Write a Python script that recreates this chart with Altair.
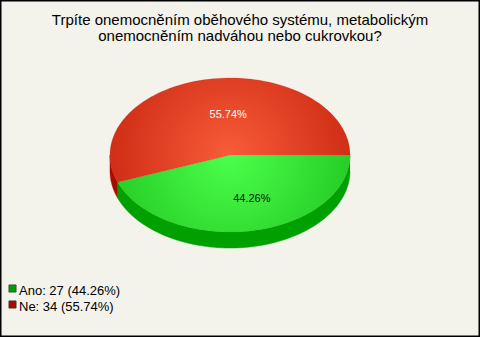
import altair as alt
import pandas as pd

# ---- data ----
categories = ["Ano", "Ne"]
counts = [27, 34]
order = [0, 1]
top_light = ["#4cff4c", "#f85c38"]
top_dark = ["#1fc41f", "#c6230e"]
side_colors = ["#00a000", "#a80c00"]
legend_colors = ["#20bb20", "#c4240e"]
label_colors = ["#111111", "#ffffff"]
title_lines = ["Trpíte onemocněním oběhového systému, metabolickým",
               "onemocněním nadváhou nebo cukrovkou?"]

df = pd.DataFrame({"cat": categories, "count": counts, "order": order})

# ---- layout ----
W, H = 480, 337
CX, CY, RX, RY, DEPTH = 230, 155, 120, 77, 16
N = 90
LF = 0.55

xs = alt.Scale(domain=[0, W], range=[0, W], nice=False, zero=False)
ys = alt.Scale(domain=[0, H], range=[0, H], nice=False, zero=False)


def slices():
    return (alt.Chart(df)
            .transform_joinaggregate(total="sum(count)")
            .transform_window(cum="sum(count)", sort=[alt.SortField("order")], frame=[None, 0])
            .transform_calculate(
                a0="(datum.cum - datum.count) / datum.total * 2 * PI",
                a1="datum.cum / datum.total * 2 * PI",
                pct="datum.count / datum.total * 100"))


def enc(ch):
    return ch.encode(
        x=alt.X("px:Q", scale=xs, axis=None),
        y=alt.Y("py:Q", scale=ys, axis=None),
        order=alt.Order("idx:Q"),
        detail="cat:N")


# side walls (visible only for the front half: angles 0..PI)
side = enc(
    slices()
    .transform_calculate(s0="max(datum.a0, 0)", s1="min(datum.a1, PI)")
    .transform_filter("datum.s1 > datum.s0")
    .transform_calculate(idx=f"sequence(0, {2 * N + 2})")
    .transform_flatten(["idx"])
    .transform_calculate(
        ang=f"datum.idx <= {N} ? datum.s0 + datum.idx / {N} * (datum.s1 - datum.s0) "
            f": datum.s1 - (datum.idx - {N + 1}) / {N} * (datum.s1 - datum.s0)",
        px=f"{CX} + {RX} * cos(datum.ang)",
        py=f"{CY} + {RY} * sin(datum.ang) + (datum.idx <= {N} ? 0 : {DEPTH})")
    .mark_line(strokeWidth=0.5, filled=False, fill="#000", interpolate="linear")
).encode(
    fill=alt.Fill("cat:N", scale=alt.Scale(domain=categories, range=side_colors), legend=None),
    stroke=alt.Stroke("cat:N", scale=alt.Scale(domain=categories, range=side_colors), legend=None))


def top_face(i, gx, gy):
    grad = {
        "gradient": "radial",
        "x1": gx, "y1": gy, "r1": 0,
        "x2": gx, "y2": gy, "r2": 0.62,
        "stops": [{"offset": 0, "color": top_light[i]},
                  {"offset": 1, "color": top_dark[i]}]}
    return enc(
        slices()
        .transform_filter(alt.datum.cat == categories[i])
        .transform_calculate(idx=f"sequence(0, {N + 2})")
        .transform_flatten(["idx"])
        .transform_calculate(
            ang=f"datum.a0 + (datum.idx - 1) / {N} * (datum.a1 - datum.a0)",
            px=f"datum.idx == 0 ? {CX} : {CX} + {RX} * cos(datum.ang)",
            py=f"datum.idx == 0 ? {CY} : {CY} + {RY} * sin(datum.ang)")
        .mark_line(fill=grad, stroke=top_dark[i], strokeWidth=0.4, strokeOpacity=0.6)
    )


top_ano = top_face(0, 0.483, 0.334)
top_ne = top_face(1, 0.5, 0.604)

labels = (
    slices()
    .transform_calculate(
        mid="(datum.a0 + datum.a1) / 2",
        txt="format(datum.pct, '.2f') + '%'")
    .transform_calculate(
        px=f"{CX} + {RX} * {LF} * cos(datum.mid)",
        py=f"{CY} + {RY} * {LF} * sin(datum.mid)")
    .mark_text(font="Liberation Sans", fontSize=11, dx=10, dy=2, baseline="middle", align="center")
    .encode(
        x=alt.X("px:Q", scale=xs, axis=None),
        y=alt.Y("py:Q", scale=ys, axis=None),
        text="txt:N",
        color=alt.Color("cat:N", scale=alt.Scale(domain=categories, range=label_colors), legend=None))
)

leg_base = (slices()
            .transform_calculate(
                sy="288.5 + datum.order * 16",
                ty="295 + datum.order * 16",
                lbl="datum.cat + ': ' + datum.count + ' (' + format(datum.pct, '.2f') + '%)'"))

leg_sq = leg_base.mark_square(size=52, opacity=1, stroke="#333333", strokeWidth=0.7).encode(
    x=alt.value(12.5),
    y=alt.Y("sy:Q", scale=ys, axis=None),
    fill=alt.Fill("cat:N", scale=alt.Scale(domain=categories, range=legend_colors), legend=None))

leg_txt = leg_base.mark_text(font="Liberation Sans", fontSize=13, align="left",
                             baseline="alphabetic", color="#000000").encode(
    x=alt.value(19),
    y=alt.Y("ty:Q", scale=ys, axis=None),
    text="lbl:N")

title_df = pd.DataFrame({"t": ["\n".join(title_lines)]})
title = alt.Chart(title_df).mark_text(
    font="Liberation Sans", fontSize=15, align="center", baseline="alphabetic",
    lineBreak="\n", lineHeight=15.5, color="#000000").encode(
    x=alt.value(240), y=alt.value(25), text="t:N")

chart = alt.layer(side, top_ano, top_ne, labels, leg_sq, leg_txt, title).properties(
    width=W, height=H, padding=0, autosize=alt.AutoSizeParams(type="none"),
    background="#f4f3eb"
).configure_view(stroke="#000000", strokeWidth=3)

chart.save("out.html", embed_options={"renderer": "svg", "actions": False})
